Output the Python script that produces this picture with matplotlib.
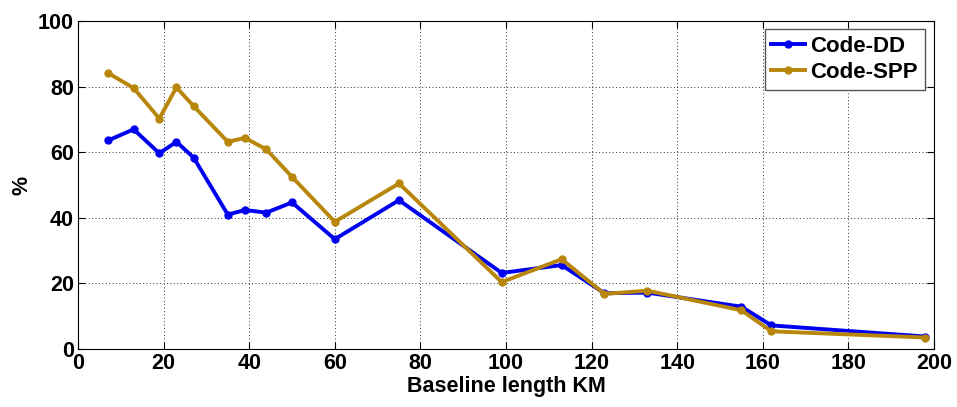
import matplotlib
matplotlib.use('Agg')
import matplotlib.pyplot as plt

# baseline lengths (km) and success rates (%)
baseline_km = [7, 13, 19, 23, 27, 35, 39, 44, 50, 60, 75, 99, 113, 123, 133, 155, 162, 198]
code_dd = [63.6, 67, 59.7, 63.2, 58.4, 41, 42.4, 41.6, 44.7, 33.5, 45.4, 23.2, 25.6, 17, 17.2, 12.9, 7.2, 3.8]
code_spp = [84.2, 79.6, 70.3, 79.8, 74.1, 63.2, 64.4, 60.9, 52.5, 38.8, 50.5, 20.4, 27.4, 16.8, 17.8, 11.8, 5.4, 3.5]

xticks = [0, 20, 40, 60, 80, 100, 120, 140, 160, 180, 200]
yticks = [0, 20, 40, 60, 80, 100]

plt.rcParams['font.family'] = ['Liberation Sans', 'DejaVu Sans']
plt.rcParams['font.weight'] = 'bold'

fig = plt.figure(figsize=(9.57, 4.07), dpi=100)
ax = fig.add_axes([0.0815, 0.1425, 0.8945, 0.8055])

ax.plot(baseline_km, code_dd, color='#0000F0', linewidth=2.8, marker='o', markersize=5, label='Code-DD')
ax.plot(baseline_km, code_spp, color='#B8860B', linewidth=2.8, marker='o', markersize=5, label='Code-SPP')

ax.set_xlim(0, 200)
ax.set_ylim(0, 100)
ax.set_xticks(xticks)
ax.set_yticks(yticks)
ax.tick_params(direction='in', top=True, right=True, labelsize=15.5, length=5, width=0.8, pad=3)
for lab in ax.get_xticklabels() + ax.get_yticklabels():
    lab.set_fontweight('bold')
ax.grid(True, linestyle=(0, (1, 2.5)), color='#333333', linewidth=0.7)
ax.set_axisbelow(True)
for sp in ax.spines.values():
    sp.set_linewidth(0.8)

ax.set_xlabel('Baseline length KM', fontsize=15.5, fontweight='bold', labelpad=1)
ax.set_ylabel('%', fontsize=15.5, fontweight='bold', labelpad=4)

leg = ax.legend(loc='upper right', fontsize=16, handlelength=1.5, handletextpad=0.25,
                borderpad=0.3, labelspacing=0.25, fancybox=False, framealpha=1,
                edgecolor='#555555', bbox_to_anchor=(1.002, 1.01))
for t in leg.get_texts():
    t.set_fontweight('bold')

fig.savefig('out.png', dpi=100)
